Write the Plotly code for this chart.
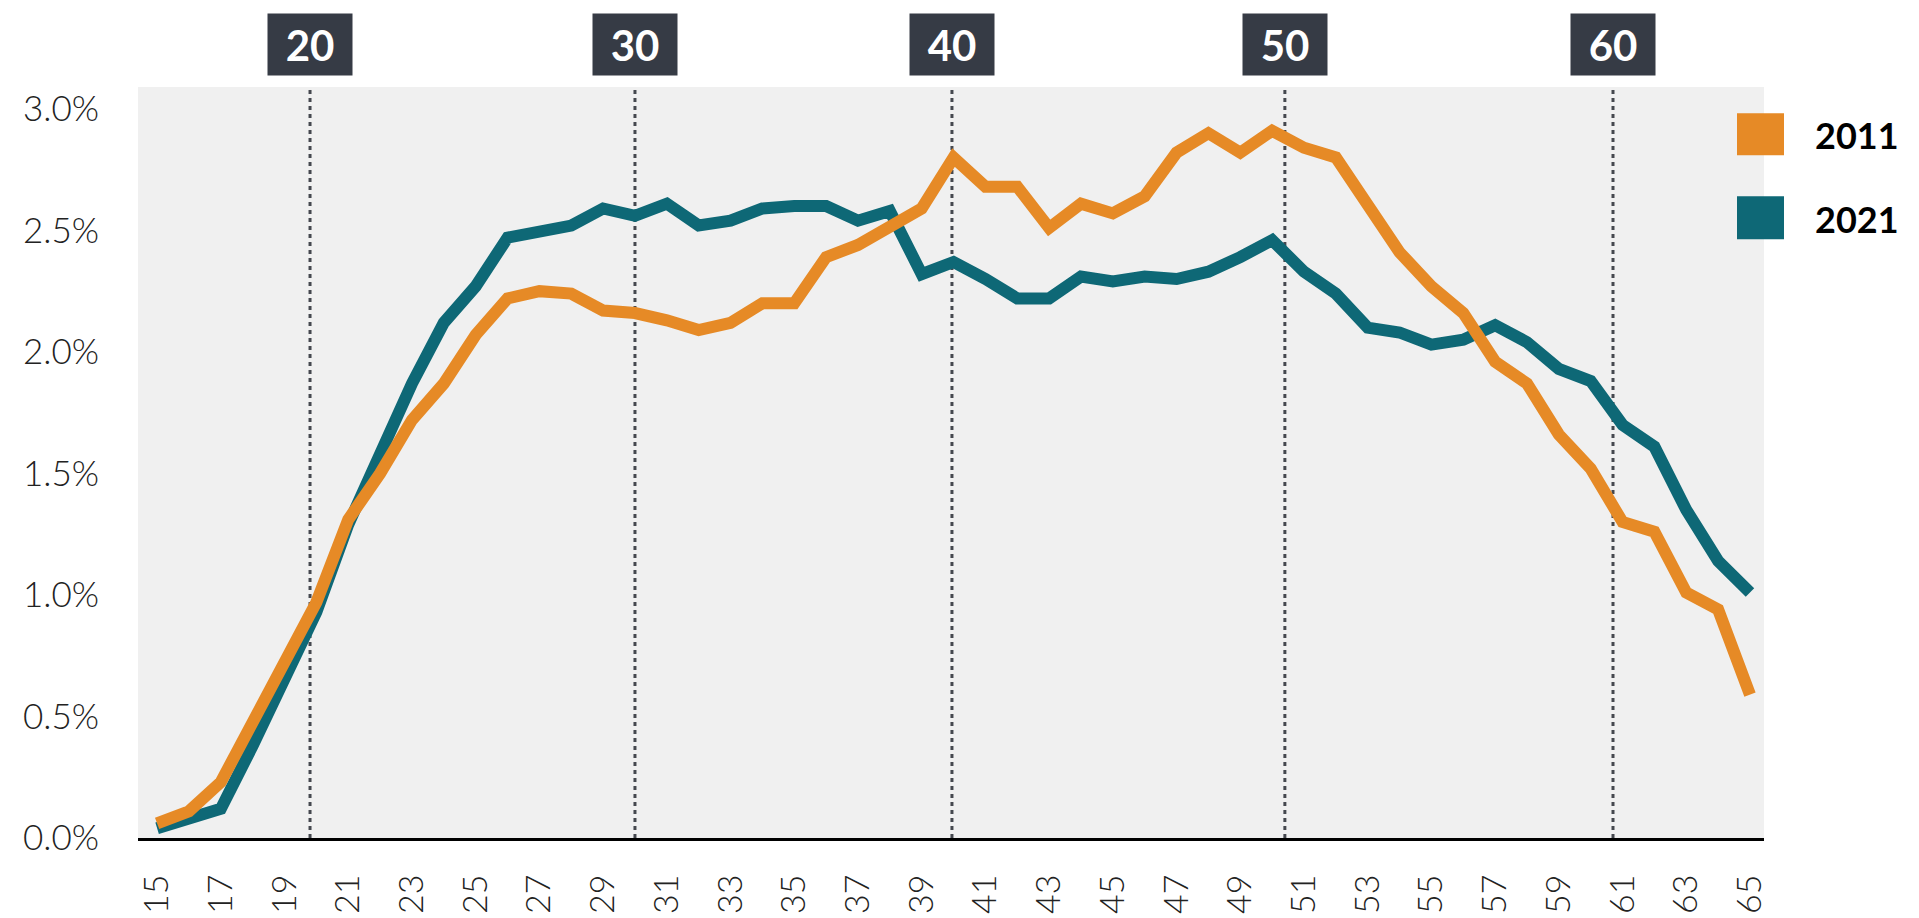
import plotly.graph_objects as go

# ---- data ----
ages = list(range(15, 66))
share_2011 = [0.06, 0.11, 0.23, 0.47, 0.72, 0.97, 1.31, 1.50, 1.72, 1.87,
              2.07, 2.22, 2.25, 2.24, 2.17, 2.16, 2.13, 2.09, 2.12, 2.20,
              2.20, 2.39, 2.44, 2.52, 2.59, 2.80, 2.68, 2.68, 2.51, 2.61,
              2.57, 2.64, 2.82, 2.90, 2.82, 2.91, 2.84, 2.80, 2.60, 2.41,
              2.27, 2.16, 1.96, 1.87, 1.66, 1.52, 1.30, 1.26, 1.01, 0.94,
              0.59]
share_2021 = [0.04, 0.08, 0.12, 0.38, 0.65, 0.93, 1.29, 1.59, 1.87, 2.12,
              2.27, 2.47, 2.49, 2.52, 2.59, 2.56, 2.61, 2.52, 2.54, 2.59,
              2.60, 2.60, 2.54, 2.58, 2.32, 2.37, 2.30, 2.22, 2.22, 2.31,
              2.29, 2.31, 2.30, 2.33, 2.39, 2.46, 2.33, 2.24, 2.10, 2.08,
              2.03, 2.05, 2.11, 2.04, 1.93, 1.88, 1.70, 1.61, 1.35, 1.14,
              1.01]
series_names = ["2011", "2021"]
series_colors = ["#E68A26", "#0E6876"]
decade_labels = ["20", "30", "40", "50", "60"]
decade_positions = [19.8, 30.0, 39.95, 50.4, 60.7]
x_tick_vals = list(range(15, 66, 2))
y_tick_vals = [0.0, 0.5, 1.0, 1.5, 2.0, 2.5, 3.0]

W, H = 1919, 918
ML, MR, MT, MB = 130, 163, 79, 69
PW = W - ML - MR
PH = H - MT - MB

fig = go.Figure()
# teal underneath, orange on top
fig.add_trace(go.Scatter(x=ages, y=share_2021, mode="lines", name=series_names[1],
                         line=dict(color=series_colors[1], width=12), showlegend=False))
fig.add_trace(go.Scatter(x=ages, y=share_2011, mode="lines", name=series_names[0],
                         line=dict(color=series_colors[0], width=12), showlegend=False))

shapes = []
annotations = []
for pos, lab in zip(decade_positions, decade_labels):
    shapes.append(dict(type="line", xref="x", yref="paper", x0=pos, x1=pos, y0=0, y1=1,
                       line=dict(color="#45484f", width=3, dash="4px,4px"), layer="below"))
    annotations.append(dict(x=pos, xref="x", y=1 + (MT - 35.5) / PH, yref="paper",
                            text="<b>%s</b>" % lab, showarrow=False,
                            font=dict(family="Lato", size=42, color="white"),
                            bgcolor="#363B45", width=82, height=59,
                            xanchor="center", yanchor="middle"))

# legend (manual, large squares)
def px_x(p):
    return (p - ML) / PW

def px_y(p):
    return (H - MB - p) / PH

leg_boxes = [(1729, 1776, 106, 149), (1729, 1776, 191, 235)]
leg_text_y = [128, 214]
for (x0, x1, y0, y1), col, name, ty in zip(leg_boxes, series_colors, series_names, leg_text_y):
    shapes.append(dict(type="rect", xref="paper", yref="paper",
                       x0=px_x(x0), x1=px_x(x1), y0=px_y(y1), y1=px_y(y0),
                       fillcolor=col, line=dict(width=0), layer="above"))
    annotations.append(dict(x=px_x(1893), xref="paper", y=px_y(ty), yref="paper",
                            text="<b>%s</b>" % name, showarrow=False,
                            font=dict(family="Lato", size=36, color="black"),
                            xanchor="right", yanchor="middle"))

fig.update_layout(
    width=W, height=H,
    margin=dict(l=ML, r=MR, t=MT, b=MB),
    paper_bgcolor="white", plot_bgcolor="#F0F0F0",
    shapes=shapes, annotations=annotations,
    showlegend=False,
    xaxis=dict(range=[14.4, 65.44], tickmode="array", tickvals=x_tick_vals,
               ticktext=[str(v) for v in x_tick_vals], tickangle=-90,
               showgrid=False, zeroline=False, showline=True, linecolor="black",
               linewidth=3, ticks="", ticklabelstandoff=20,
               tickfont=dict(family="Lato", size=34, color="#222222", weight=300)),
    yaxis=dict(range=[0, 3.09], tickmode="array", tickvals=y_tick_vals,
               ticktext=["%.1f%%" % v for v in y_tick_vals],
               showgrid=False, zeroline=False, showline=False, ticks="",
               ticklabelstandoff=38,
               tickfont=dict(family="Lato", size=35, color="#222222", weight=300)),
)

fig.write_html("out.html")
